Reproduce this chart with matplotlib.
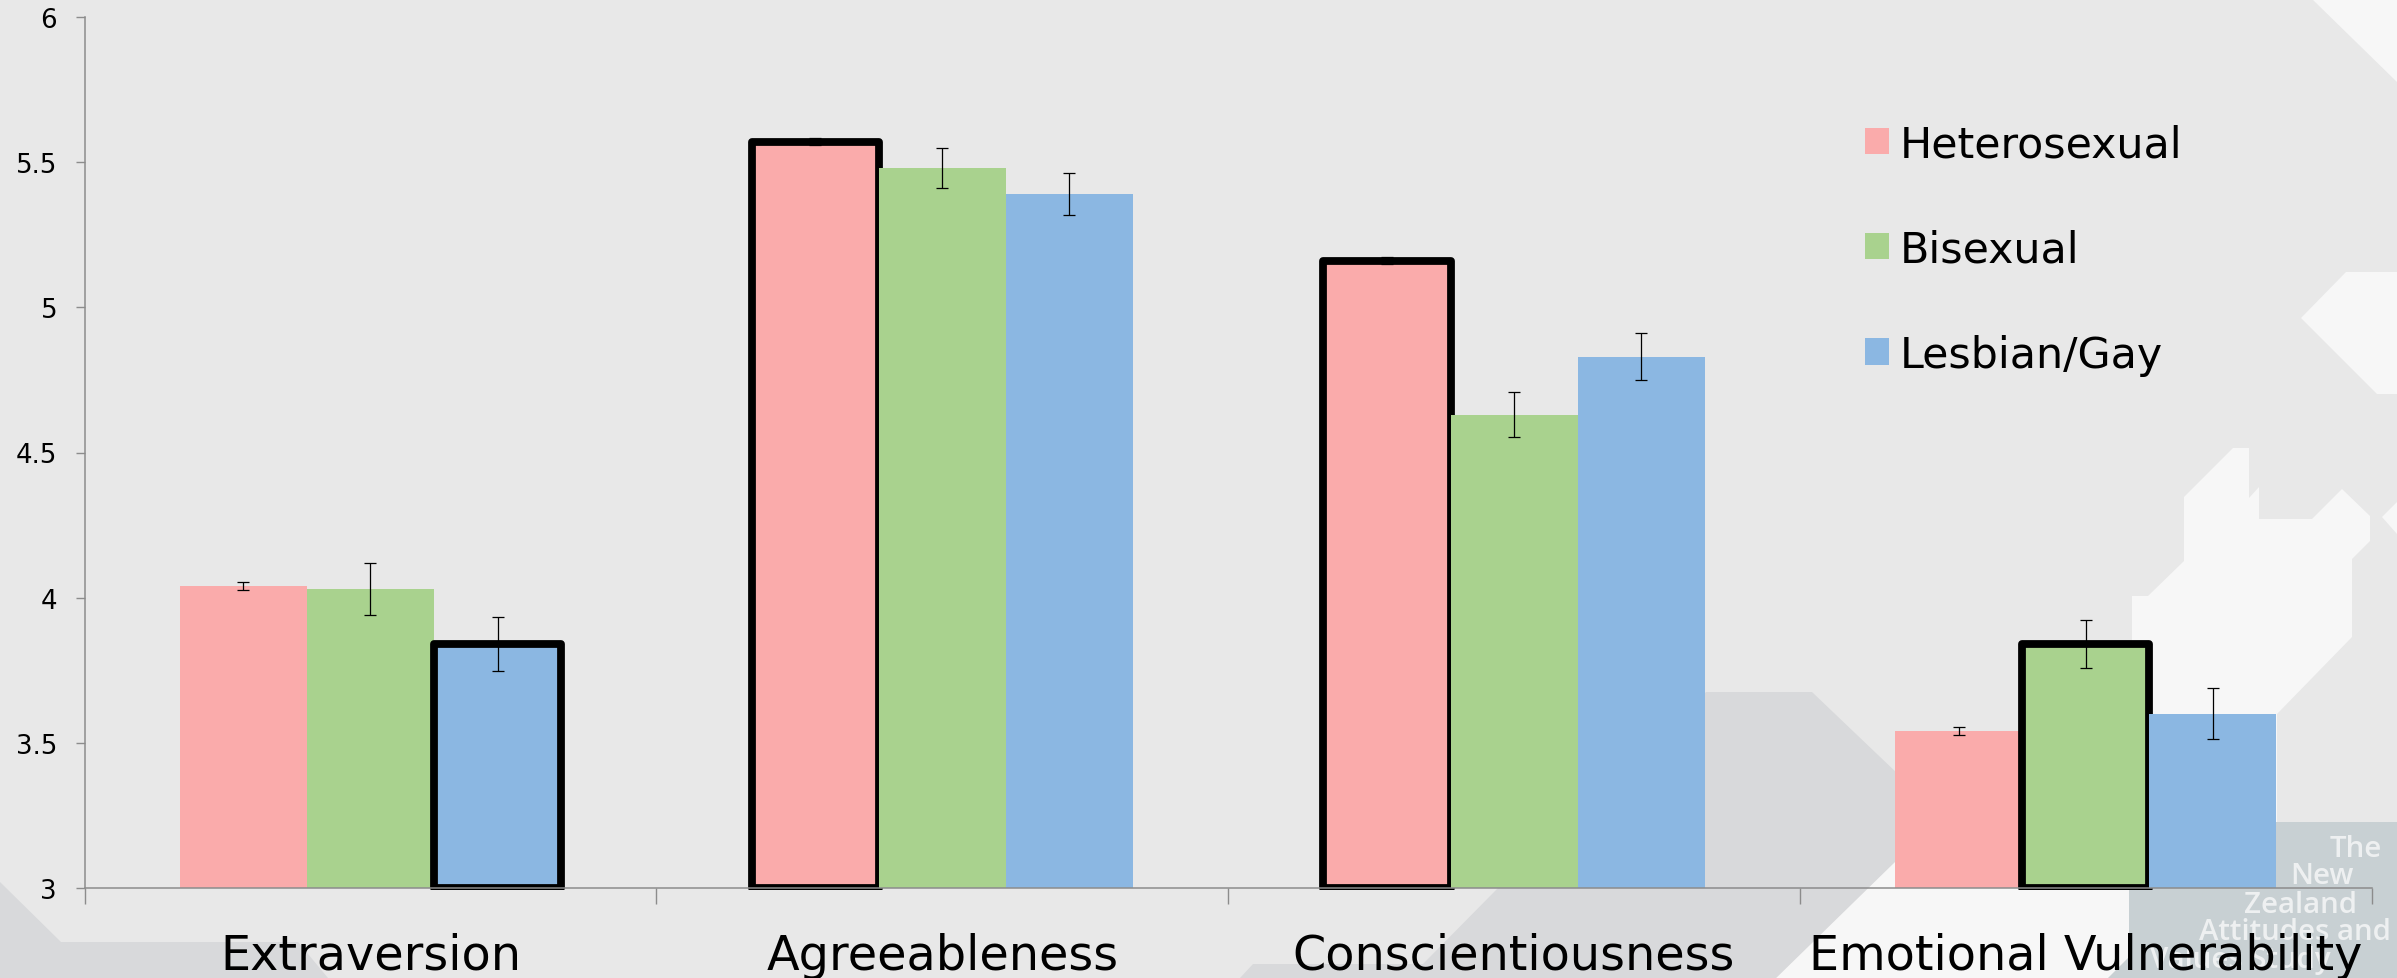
import matplotlib
matplotlib.use('Agg')
import matplotlib.pyplot as plt
import numpy as np
from matplotlib.patches import Polygon, Patch
from matplotlib.transforms import Bbox

W, H = 2397, 979

categories = ['Extraversion', 'Agreeableness', 'Conscientiousness', 'Emotional Vulnerability']
series_names = ['Heterosexual', 'Bisexual', 'Lesbian/Gay']
heterosexual = [4.04, 5.57, 5.16, 3.54]
bisexual = [4.03, 5.48, 4.63, 3.84]
lesbian_gay = [3.84, 5.39, 4.83, 3.60]
heterosexual_err = [0.014, 0.012, 0.012, 0.014]
bisexual_err = [0.09, 0.07, 0.078, 0.083]
lesbian_gay_err = [0.093, 0.073, 0.081, 0.088]
# which bar of each series has the heavy outline
highlighted = [[1, 2], [3], [0]]
colors = ['#FAABAB', '#A9D28E', '#8BB7E2']
y_ticks = [3, 3.5, 4, 4.5, 5, 5.5, 6]
y_tick_labels = ['3', '3.5', '4', '4.5', '5', '5.5', '6']

# slide background shapes, in image pixels
LIGHT = '#F7F7F7'
DARK = '#D8D9DB'
BOX = '#C8D0D3'
bg_shapes = [
    (LIGHT, [(2312, 0), (2397, 83), (2397, 0)]),
    (LIGHT, [(2346, 273), (2301, 319), (2377, 395), (2397, 395), (2397, 273)]),
    (LIGHT, [(2397, 503), (2382, 518), (2397, 535)]),
    (LIGHT, [(2233, 449), (2249, 449), (2249, 499), (2259, 488), (2259, 520), (2312, 520),
             (2342, 490), (2370, 517), (2370, 542), (2352, 560), (2352, 638), (2277, 715),
             (2277, 979), (1776, 979), (1942, 817), (2132, 700), (2132, 597), (2148, 597),
             (2184, 562), (2184, 498)]),
    (DARK, [(1240, 979), (1253, 965), (1423, 965), (1497, 890), (1706, 693), (1812, 693),
            (1942, 817), (1776, 979)]),
    (DARK, [(0, 883), (61, 943), (298, 943), (328, 979), (0, 979)]),
    (BOX, [(2129, 823), (2397, 823), (2397, 979), (2108, 979), (2129, 958)]),
]
logo_lines = [('The', 2330, 857), ('New', 2290, 884), ('Zealand', 2244, 913),
              ('Attitudes and', 2199, 940), ('Values Study', 2150, 968)]

fig = plt.figure(figsize=(W / 100, H / 100), dpi=100, facecolor='#E8E8E8')
for color, pts in bg_shapes:
    fig.add_artist(Polygon([(x / W, 1 - y / H) for x, y in pts], closed=True, facecolor=color,
                           edgecolor='none', transform=fig.transFigure, zorder=-2))
for txt, x, y in logo_lines:
    fig.text(x / W, 1 - y / H, txt, color='#EEF0F1', fontsize=21.2, family='Open Sans',
             fontweight='semibold', ha='left', va='baseline', zorder=-1)

ax = fig.add_axes([84.6 / W, 1 - 889 / H, (2371.7 - 84.6) / W, (889 - 18) / H])
ax.patch.set_visible(False)

bar_w = 1 / 4.5
x = np.arange(len(categories))
all_values = [heterosexual, bisexual, lesbian_gay]
all_errors = [heterosexual_err, bisexual_err, lesbian_gay_err]
for i in range(3):
    heights = np.array(all_values[i]) - 3
    bars = ax.bar(x + (i - 1) * bar_w, heights, bar_w, bottom=3, color=colors[i],
                  label=series_names[i], yerr=all_errors[i],
                  error_kw=dict(ecolor='black', elinewidth=0.9, capsize=4.4, capthick=0.9))
    for j in highlighted[i]:
        bars[j].set(edgecolor='black', linewidth=5.6, joinstyle='round')
        # stroke runs a little below the axis line
        bars[j].set_clip_box(Bbox.from_extents(0, H - 891, W, H))

ax.set_xlim(-0.5, 3.5)
ax.set_ylim(3, 6)
ax.spines['top'].set_visible(False)
ax.spines['right'].set_visible(False)
for s in ['left', 'bottom']:
    ax.spines[s].set_color('#8C8C8C')
    ax.spines[s].set_linewidth(1.1)

ax.set_yticks(y_ticks)
ax.set_yticklabels(y_tick_labels, fontsize=18.7)
ax.tick_params(axis='y', length=6.3, width=1.0, color='#8C8C8C', pad=13.5)

ax.set_xticks(np.arange(-0.5, 4, 1))
ax.set_xticklabels([])
ax.set_xticks(x, categories, minor=True, fontsize=34.4)
ax.tick_params(axis='x', which='major', length=11.5, width=1.0, color='#8C8C8C')
ax.tick_params(axis='x', which='minor', length=0, pad=31.5)

handles = [Patch(facecolor=colors[i], label=series_names[i]) for i in range(3)]
ax.legend(handles=handles, loc='upper left', bbox_to_anchor=(1865 / W, 1 - 124 / H),
          bbox_transform=fig.transFigure, frameon=False, fontsize=30.8, handlelength=0.561,
          handleheight=0.561, handletextpad=0.24, labelspacing=1.48, borderpad=0,
          borderaxespad=0)

fig.savefig('out.png', dpi=100)
